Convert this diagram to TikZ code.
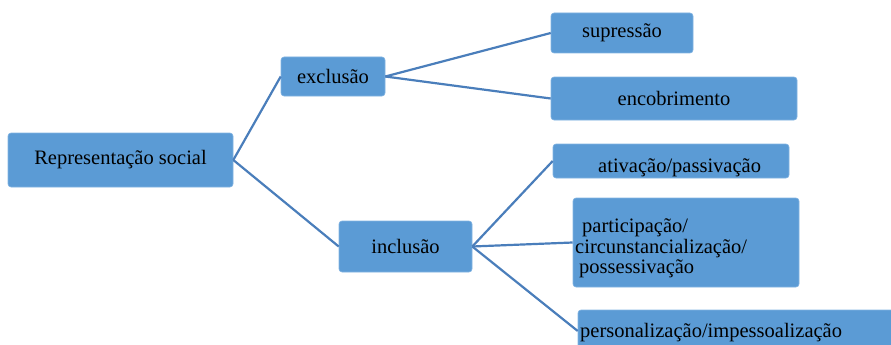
\documentclass[tikz,border=0pt]{standalone}
\usepackage{fontspec}
\setmainfont{Liberation Serif}
\definecolor{boxblue}{HTML}{5B9BD5}
\definecolor{edgeblue}{HTML}{82B4E2}
\definecolor{linkblue}{HTML}{4A7EBB}

\begin{document}
\begin{tikzpicture}[
    x=1pt, y=-1pt,
    box_style/.style={rectangle, rounded corners=3pt, fill=boxblue, draw=edgeblue, line width=0.6pt, inner sep=0pt, font=\fontsize{20.5}{24}\selectfont},
    text_style/.style={inner sep=0pt, anchor=base west, font=\fontsize{20.5}{24}\selectfont},
    link_style/.style={linkblue, line width=2.2pt}
]
    \useasboundingbox (0,0) rectangle (891,345);

    % --- Root ---
    \node[box_style, minimum width=225pt, minimum height=54pt] (rep) at (120.5,160) {Representação social};

    % --- Second level ---
    \node[box_style, minimum width=104pt, minimum height=39pt] (excl) at (333,76.5) {exclusão};
    \node[box_style, minimum width=133pt, minimum height=51pt] (incl) at (405.5,246.5) {inclusão};

    % --- Leaves of exclusao ---
    \node[box_style, minimum width=142pt, minimum height=40pt] (supr) at (622,33) {supressão};
    \node[box_style, minimum width=246pt, minimum height=43pt] (enco) at (674,98.5) {encobrimento};

    % --- Leaves of inclusao (text sits off centre, as in the source) ---
    \node[box_style, minimum width=236pt, minimum height=34pt] (ativ) at (671,161) {};
    \node[text_style] (ativ_txt) at (598,172) {ativação/passivação};

    \node[box_style, minimum width=226pt, minimum height=89pt] (part) at (686,242.5) {};
    \node[text_style] (part_a) at (582,232) {participação/};
    \node[text_style] (part_b) at (575,253) {circunstancialização/};
    \node[text_style] (part_c) at (579,273) {possessivação};

    \node[box_style, minimum width=322pt, minimum height=42pt] (pers) at (739,331) {};
    \node[text_style] (pers_txt) at (580,337) {personalização/impessoalização};

    % --- Connectors ---
    \draw[link_style] (rep.east) -- (excl.west);
    \draw[link_style] (rep.east) -- (incl.west);
    \draw[link_style] (excl.east) -- (supr.west);
    \draw[link_style] (excl.east) -- (enco.west);
    \draw[link_style] (incl.east) -- (ativ.west);
    \draw[link_style] (incl.east) -- (part.west);
    \draw[link_style] (incl.east) -- (pers.west);

\end{tikzpicture}
\end{document}
